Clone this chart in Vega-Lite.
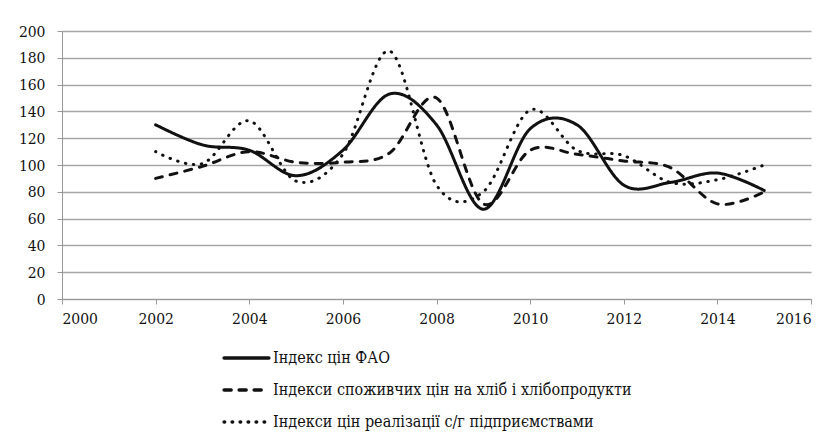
{
  "$schema": "https://vega.github.io/schema/vega-lite/v6.json",
  "autosize": {"type": "none"},
  "width": 749,
  "height": 268,
  "padding": {"left": 62, "top": 31, "right": 27, "bottom": 136},
  "background": "white",
  "config": {
    "view": {"stroke": null}
  },
  "data": {
    "values": [
      {"year": 2002, "series": "Індекс цін ФАО", "value": 130},
      {"year": 2003, "series": "Індекс цін ФАО", "value": 115},
      {"year": 2004, "series": "Індекс цін ФАО", "value": 111},
      {"year": 2005, "series": "Індекс цін ФАО", "value": 92},
      {"year": 2006, "series": "Індекс цін ФАО", "value": 111},
      {"year": 2007, "series": "Індекс цін ФАО", "value": 153},
      {"year": 2008, "series": "Індекс цін ФАО", "value": 130},
      {"year": 2009, "series": "Індекс цін ФАО", "value": 67},
      {"year": 2010, "series": "Індекс цін ФАО", "value": 127},
      {"year": 2011, "series": "Індекс цін ФАО", "value": 130},
      {"year": 2012, "series": "Індекс цін ФАО", "value": 85},
      {"year": 2013, "series": "Індекс цін ФАО", "value": 87},
      {"year": 2014, "series": "Індекс цін ФАО", "value": 94},
      {"year": 2015, "series": "Індекс цін ФАО", "value": 81},
      {"year": 2002, "series": "Індекси споживчих цін на хліб і хлібопродукти", "value": 90},
      {"year": 2003, "series": "Індекси споживчих цін на хліб і хлібопродукти", "value": 99},
      {"year": 2004, "series": "Індекси споживчих цін на хліб і хлібопродукти", "value": 110},
      {"year": 2005, "series": "Індекси споживчих цін на хліб і хлібопродукти", "value": 102},
      {"year": 2006, "series": "Індекси споживчих цін на хліб і хлібопродукти", "value": 102},
      {"year": 2007, "series": "Індекси споживчих цін на хліб і хлібопродукти", "value": 109},
      {"year": 2008, "series": "Індекси споживчих цін на хліб і хлібопродукти", "value": 150},
      {"year": 2009, "series": "Індекси споживчих цін на хліб і хлібопродукти", "value": 71},
      {"year": 2010, "series": "Індекси споживчих цін на хліб і хлібопродукти", "value": 111},
      {"year": 2011, "series": "Індекси споживчих цін на хліб і хлібопродукти", "value": 108},
      {"year": 2012, "series": "Індекси споживчих цін на хліб і хлібопродукти", "value": 103},
      {"year": 2013, "series": "Індекси споживчих цін на хліб і хлібопродукти", "value": 98},
      {"year": 2014, "series": "Індекси споживчих цін на хліб і хлібопродукти", "value": 71},
      {"year": 2015, "series": "Індекси споживчих цін на хліб і хлібопродукти", "value": 80},
      {"year": 2002, "series": "Індекси цін реалізації с/г підприємствами", "value": 110},
      {"year": 2003, "series": "Індекси цін реалізації с/г підприємствами", "value": 101},
      {"year": 2004, "series": "Індекси цін реалізації с/г підприємствами", "value": 133},
      {"year": 2005, "series": "Індекси цін реалізації с/г підприємствами", "value": 88},
      {"year": 2006, "series": "Індекси цін реалізації с/г підприємствами", "value": 108},
      {"year": 2007, "series": "Індекси цін реалізації с/г підприємствами", "value": 185},
      {"year": 2008, "series": "Індекси цін реалізації с/г підприємствами", "value": 85},
      {"year": 2009, "series": "Індекси цін реалізації с/г підприємствами", "value": 80},
      {"year": 2010, "series": "Індекси цін реалізації с/г підприємствами", "value": 141},
      {"year": 2011, "series": "Індекси цін реалізації с/г підприємствами", "value": 111},
      {"year": 2012, "series": "Індекси цін реалізації с/г підприємствами", "value": 107},
      {"year": 2013, "series": "Індекси цін реалізації с/г підприємствами", "value": 87},
      {"year": 2014, "series": "Індекси цін реалізації с/г підприємствами", "value": 89},
      {"year": 2015, "series": "Індекси цін реалізації с/г підприємствами", "value": 100}
    ]
  },
  "mark": {"type": "line", "interpolate": "cardinal", "tension": 0, "strokeWidth": 3, "strokeCap": "round", "color": "#111111"},
  "encoding": {
    "x": {
      "field": "year", "type": "quantitative",
      "scale": {"domain": [2000, 2016], "nice": false, "zero": false},
      "axis": {
        "title": null, "values": [2000, 2002, 2004, 2006, 2008, 2010, 2012, 2014, 2016],
        "format": "d", "grid": false, "domainColor": "#999999", "tickColor": "#999999",
        "tickSize": 5, "labelFont": "DejaVu Serif Condensed", "labelFontSize": 15.5, "labelColor": "#111111", "labelPadding": 7
      }
    },
    "y": {
      "field": "value", "type": "quantitative",
      "scale": {"domain": [0, 200], "nice": false},
      "axis": {
        "title": null, "values": [0, 20, 40, 60, 80, 100, 120, 140, 160, 180, 200],
        "grid": true, "gridColor": "#a6a6a6", "gridWidth": 1.3,
        "domainColor": "#999999", "tickColor": "#999999", "tickSize": 5,
        "labelFont": "DejaVu Serif Condensed", "labelFontSize": 15.5, "labelColor": "#111111", "labelPadding": 12
      }
    },
    "strokeDash": {
      "field": "series", "type": "nominal",
      "scale": {
        "domain": ["Індекс цін ФАО", "Індекси споживчих цін на хліб і хлібопродукти", "Індекси цін реалізації с/г підприємствами"],
        "range": [[1, 0], [7, 8], [0.5, 7.5]]
      },
      "legend": {
        "title": null, "orient": "none", "legendX": 160, "legendY": 318,
        "direction": "vertical", "symbolType": "stroke", "symbolSize": 2000,
        "symbolStrokeWidth": 3.5, "symbolStrokeColor": "#111111",
        "labelFont": "DejaVu Serif Condensed", "labelFontSize": 16, "labelColor": "#111111", "labelOffset": 2,
        "clipHeight": 18, "rowPadding": 14, "labelLimit": 600,
        "encode": {"symbols": {"update": {"strokeCap": {"value": "round"}}}}
      }
    }
  }
}
